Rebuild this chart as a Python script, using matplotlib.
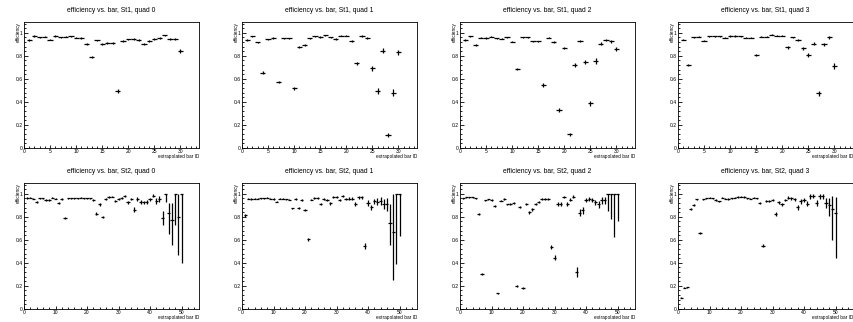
import matplotlib
matplotlib.use("Agg")
import matplotlib.pyplot as plt
from matplotlib.ticker import MultipleLocator, FixedLocator, FixedFormatter

plt.rcParams['font.family'] = ['Liberation Sans', 'DejaVu Sans']

# bar IDs for the two stations
bars_st1 = list(range(1, 31))
bars_st2 = list(range(1, 51))

# Station 1 efficiencies (symmetric errors)
st1_q0 = [0.936, 0.971, 0.962, 0.965, 0.939, 0.971, 0.959, 0.965, 0.968, 0.957,
          0.954, 0.899, 0.786, 0.933, 0.901, 0.910, 0.910, 0.493, 0.928, 0.942,
          0.948, 0.936, 0.901, 0.928, 0.942, 0.951, 0.977, 0.948, 0.948, 0.840]
st1_q0_err = [0.006, 0.005, 0.005, 0.005, 0.006, 0.005, 0.005, 0.005, 0.005, 0.005,
              0.006, 0.008, 0.010, 0.007, 0.008, 0.008, 0.008, 0.016, 0.007, 0.007,
              0.007, 0.007, 0.009, 0.008, 0.008, 0.008, 0.007, 0.008, 0.009, 0.016]

st1_q1 = [0.936, 0.968, 0.916, 0.652, 0.942, 0.954, 0.574, 0.951, 0.951, 0.516,
          0.878, 0.896, 0.951, 0.968, 0.962, 0.977, 0.959, 0.945, 0.974, 0.974,
          0.930, 0.733, 0.971, 0.954, 0.690, 0.496, 0.843, 0.113, 0.478, 0.829]
st1_q1_err = [0.006, 0.005, 0.007, 0.012, 0.006, 0.006, 0.010, 0.006, 0.006, 0.010,
              0.008, 0.008, 0.006, 0.005, 0.006, 0.005, 0.006, 0.007, 0.005, 0.005,
              0.007, 0.016, 0.006, 0.007, 0.020, 0.025, 0.020, 0.018, 0.030, 0.022]

st1_q2 = [0.936, 0.968, 0.893, 0.957, 0.954, 0.965, 0.951, 0.948, 0.962, 0.922,
          0.684, 0.959, 0.959, 0.925, 0.925, 0.545, 0.957, 0.922, 0.328, 0.867,
          0.116, 0.716, 0.925, 0.745, 0.386, 0.754, 0.904, 0.936, 0.925, 0.858]
st1_q2_err = [0.006, 0.005, 0.007, 0.005, 0.005, 0.005, 0.005, 0.005, 0.005, 0.006,
              0.010, 0.005, 0.006, 0.007, 0.007, 0.014, 0.006, 0.008, 0.016, 0.010,
              0.012, 0.018, 0.009, 0.020, 0.022, 0.022, 0.012, 0.010, 0.010, 0.016]

st1_q3 = [0.939, 0.716, 0.959, 0.965, 0.930, 0.968, 0.968, 0.968, 0.957, 0.971,
          0.971, 0.968, 0.957, 0.957, 0.809, 0.965, 0.965, 0.983, 0.974, 0.974,
          0.872, 0.959, 0.936, 0.864, 0.806, 0.904, 0.472, 0.899, 0.959, 0.710]
st1_q3_err = [0.006, 0.009, 0.005, 0.005, 0.006, 0.005, 0.005, 0.005, 0.005, 0.005,
              0.005, 0.005, 0.005, 0.005, 0.010, 0.005, 0.005, 0.005, 0.005, 0.005,
              0.012, 0.008, 0.010, 0.016, 0.018, 0.014, 0.025, 0.015, 0.010, 0.025]

# Station 2 efficiencies (asymmetric errors)
st2_q0 = [0.962, 0.965, 0.957, 0.928, 0.959, 0.959, 0.945, 0.945, 0.965, 0.957,
          0.919, 0.954, 0.788, 0.962, 0.962, 0.962, 0.962, 0.965, 0.959, 0.962,
          0.959, 0.945, 0.826, 0.907, 0.797, 0.957, 0.971, 0.974, 0.939, 0.957,
          0.962, 0.980, 0.925, 0.954, 0.861, 0.954, 0.930, 0.925, 0.930, 0.951,
          0.983, 0.939, 0.957, 0.791, 1.000, 0.830, 0.770, 1.000, 0.800, 1.000]
st2_q0_lo = [0.006, 0.005, 0.005, 0.006, 0.005, 0.005, 0.005, 0.005, 0.005, 0.005,
             0.007, 0.005, 0.008, 0.005, 0.005, 0.005, 0.005, 0.005, 0.005, 0.005,
             0.005, 0.006, 0.012, 0.012, 0.012, 0.008, 0.006, 0.006, 0.010, 0.008,
             0.008, 0.008, 0.014, 0.012, 0.020, 0.014, 0.016, 0.016, 0.016, 0.016,
             0.014, 0.025, 0.025, 0.060, 0.070, 0.180, 0.220, 0.270, 0.330, 0.600]
st2_q0_hi = [0.006, 0.005, 0.005, 0.006, 0.005, 0.005, 0.005, 0.005, 0.005, 0.005,
             0.007, 0.005, 0.008, 0.005, 0.005, 0.005, 0.005, 0.005, 0.005, 0.005,
             0.005, 0.006, 0.012, 0.012, 0.012, 0.008, 0.006, 0.006, 0.010, 0.008,
             0.008, 0.008, 0.014, 0.012, 0.020, 0.014, 0.016, 0.016, 0.016, 0.016,
             0.014, 0.025, 0.025, 0.060, 0.000, 0.090, 0.150, 0.000, 0.200, 0.000]

st2_q1 = [0.812, 0.957, 0.954, 0.957, 0.957, 0.959, 0.959, 0.965, 0.957, 0.954,
          0.930, 0.957, 0.957, 0.951, 0.948, 0.872, 0.954, 0.875, 0.945, 0.855,
          0.603, 0.948, 0.962, 0.962, 0.910, 0.954, 0.945, 0.916, 0.974, 0.974,
          0.945, 0.983, 0.954, 0.957, 0.957, 0.910, 0.968, 0.968, 0.545, 0.922,
          0.881, 0.933, 0.930, 0.936, 0.913, 0.913, 0.745, 0.670, 1.000, 1.000]
st2_q1_lo = [0.012, 0.005, 0.005, 0.005, 0.005, 0.005, 0.005, 0.005, 0.005, 0.005,
             0.006, 0.005, 0.005, 0.005, 0.005, 0.007, 0.005, 0.007, 0.006, 0.008,
             0.012, 0.006, 0.006, 0.006, 0.010, 0.007, 0.008, 0.010, 0.008, 0.008,
             0.010, 0.008, 0.012, 0.012, 0.012, 0.020, 0.012, 0.012, 0.030, 0.025,
             0.025, 0.025, 0.030, 0.035, 0.050, 0.060, 0.190, 0.420, 0.610, 0.370]
st2_q1_hi = [0.012, 0.005, 0.005, 0.005, 0.005, 0.005, 0.005, 0.005, 0.005, 0.005,
             0.006, 0.005, 0.005, 0.005, 0.005, 0.007, 0.005, 0.007, 0.006, 0.008,
             0.012, 0.006, 0.006, 0.006, 0.010, 0.007, 0.008, 0.010, 0.008, 0.008,
             0.010, 0.008, 0.012, 0.012, 0.012, 0.020, 0.012, 0.012, 0.030, 0.025,
             0.025, 0.025, 0.030, 0.035, 0.040, 0.050, 0.170, 0.330, 0.000, 0.000]

st2_q2 = [0.959, 0.968, 0.968, 0.968, 0.959, 0.826, 0.299, 0.942, 0.951, 0.945,
          0.893, 0.133, 0.939, 0.954, 0.907, 0.913, 0.919, 0.200, 0.881, 0.177,
          0.910, 0.838, 0.864, 0.910, 0.930, 0.954, 0.954, 0.954, 0.536, 0.443,
          0.913, 0.913, 0.971, 0.913, 0.948, 0.974, 0.319, 0.835, 0.855, 0.948,
          0.957, 0.945, 0.925, 0.907, 0.945, 0.945, 1.000, 1.000, 1.000, 1.000]
st2_q2_lo = [0.005, 0.005, 0.005, 0.005, 0.005, 0.008, 0.008, 0.006, 0.006, 0.006,
             0.007, 0.006, 0.006, 0.006, 0.007, 0.007, 0.007, 0.008, 0.008, 0.008,
             0.008, 0.010, 0.010, 0.010, 0.010, 0.008, 0.008, 0.008, 0.020, 0.022,
             0.016, 0.016, 0.012, 0.016, 0.014, 0.012, 0.040, 0.030, 0.030, 0.016,
             0.016, 0.018, 0.022, 0.030, 0.030, 0.030, 0.150, 0.220, 0.380, 0.240]
st2_q2_hi = [0.005, 0.005, 0.005, 0.005, 0.005, 0.008, 0.008, 0.006, 0.006, 0.006,
             0.007, 0.006, 0.006, 0.006, 0.007, 0.007, 0.007, 0.008, 0.008, 0.008,
             0.008, 0.010, 0.010, 0.010, 0.010, 0.008, 0.008, 0.008, 0.020, 0.022,
             0.016, 0.016, 0.012, 0.016, 0.014, 0.012, 0.040, 0.030, 0.030, 0.016,
             0.016, 0.018, 0.022, 0.030, 0.030, 0.030, 0.000, 0.000, 0.000, 0.000]

st2_q3 = [0.096, 0.183, 0.186, 0.870, 0.901, 0.951, 0.658, 0.951, 0.959, 0.965,
          0.959, 0.945, 0.933, 0.965, 0.957, 0.954, 0.959, 0.965, 0.971, 0.974,
          0.971, 0.962, 0.957, 0.965, 0.962, 0.922, 0.548, 0.936, 0.936, 0.948,
          0.820, 0.925, 0.907, 0.945, 0.965, 0.959, 0.951, 0.881, 0.933, 0.942,
          0.913, 0.977, 0.983, 0.919, 0.977, 0.977, 0.919, 0.899, 0.870, 0.832]
st2_q3_lo = [0.006, 0.006, 0.006, 0.008, 0.007, 0.005, 0.008, 0.005, 0.005, 0.005,
             0.005, 0.005, 0.005, 0.005, 0.005, 0.005, 0.005, 0.005, 0.005, 0.005,
             0.005, 0.005, 0.005, 0.005, 0.005, 0.007, 0.015, 0.010, 0.010, 0.010,
             0.018, 0.012, 0.014, 0.012, 0.012, 0.012, 0.014, 0.022, 0.018, 0.018,
             0.020, 0.020, 0.017, 0.025, 0.020, 0.020, 0.040, 0.090, 0.270, 0.390]
st2_q3_hi = [0.006, 0.006, 0.006, 0.008, 0.007, 0.005, 0.008, 0.005, 0.005, 0.005,
             0.005, 0.005, 0.005, 0.005, 0.005, 0.005, 0.005, 0.005, 0.005, 0.005,
             0.005, 0.005, 0.005, 0.005, 0.005, 0.007, 0.015, 0.010, 0.010, 0.010,
             0.018, 0.012, 0.014, 0.012, 0.012, 0.012, 0.014, 0.022, 0.018, 0.018,
             0.020, 0.020, 0.017, 0.025, 0.020, 0.020, 0.040, 0.066, 0.110, 0.140]

ytick_vals = [0, 0.2, 0.4, 0.6, 0.8, 1.0]
ytick_labels = ["0", "0.2", "0.4", "0.6", "0.8", "1"]

panels = [
    ("St1", 0, bars_st1, st1_q0, st1_q0_err, st1_q0_err),
    ("St1", 1, bars_st1, st1_q1, st1_q1_err, st1_q1_err),
    ("St1", 2, bars_st1, st1_q2, st1_q2_err, st1_q2_err),
    ("St1", 3, bars_st1, st1_q3, st1_q3_err, st1_q3_err),
    ("St2", 0, bars_st2, st2_q0, st2_q0_lo, st2_q0_hi),
    ("St2", 1, bars_st2, st2_q1, st2_q1_lo, st2_q1_hi),
    ("St2", 2, bars_st2, st2_q2, st2_q2_lo, st2_q2_hi),
    ("St2", 3, bars_st2, st2_q3, st2_q3_lo, st2_q3_hi),
]

W, H = 854, 322
fig = plt.figure(figsize=(W / 100, H / 100), dpi=100)

for i, (st, quad, x, y, lo, hi) in enumerate(panels):
    row, col = divmod(i, 4)
    left_px = 24 + 218 * col
    top_px = 21.7 + 161 * row
    ax = fig.add_axes([left_px / W, 1 - (top_px + 126) / H, 175 / W, 126 / H])

    ax.errorbar(x, y, xerr=0.5, yerr=[lo, hi], fmt='none', ecolor='black',
                elinewidth=0.9, capsize=0)

    xmax = 33.55 if st == "St1" else 55.55
    ax.set_xlim(0, xmax)
    ax.set_ylim(0, 1.096)

    ax.yaxis.set_major_locator(FixedLocator(ytick_vals))
    ax.yaxis.set_major_formatter(FixedFormatter(ytick_labels))
    ax.yaxis.set_minor_locator(MultipleLocator(0.04))
    if st == "St1":
        ax.xaxis.set_major_locator(MultipleLocator(5))
        ax.xaxis.set_minor_locator(MultipleLocator(1))
    else:
        ax.xaxis.set_major_locator(MultipleLocator(10))
        ax.xaxis.set_minor_locator(MultipleLocator(2))

    ax.tick_params(axis='both', which='both', direction='in', top=False,
                   right=False, labelsize=3.6, pad=1.0, width=0.6)
    ax.tick_params(axis='y', which='major', length=3.0)
    ax.tick_params(axis='y', which='minor', length=1.5)
    ax.tick_params(axis='x', which='major', length=2.4)
    ax.tick_params(axis='x', which='minor', length=1.2)
    for sp in ax.spines.values():
        sp.set_linewidth(0.6)

    ax.text(0.5, 1.085, f"efficiency vs. bar, {st}, quad {quad}",
            transform=ax.transAxes, ha='center', va='center', fontsize=4.9)
    ax.text(-0.034, 1.0, "efficiency", transform=ax.transAxes, rotation=90,
            ha='center', va='top', fontsize=3.4)
    ax.text(1.0, -0.07, "extrapolated bar ID", transform=ax.transAxes,
            ha='right', va='center', fontsize=3.4)

fig.savefig("out.png", dpi=100)
